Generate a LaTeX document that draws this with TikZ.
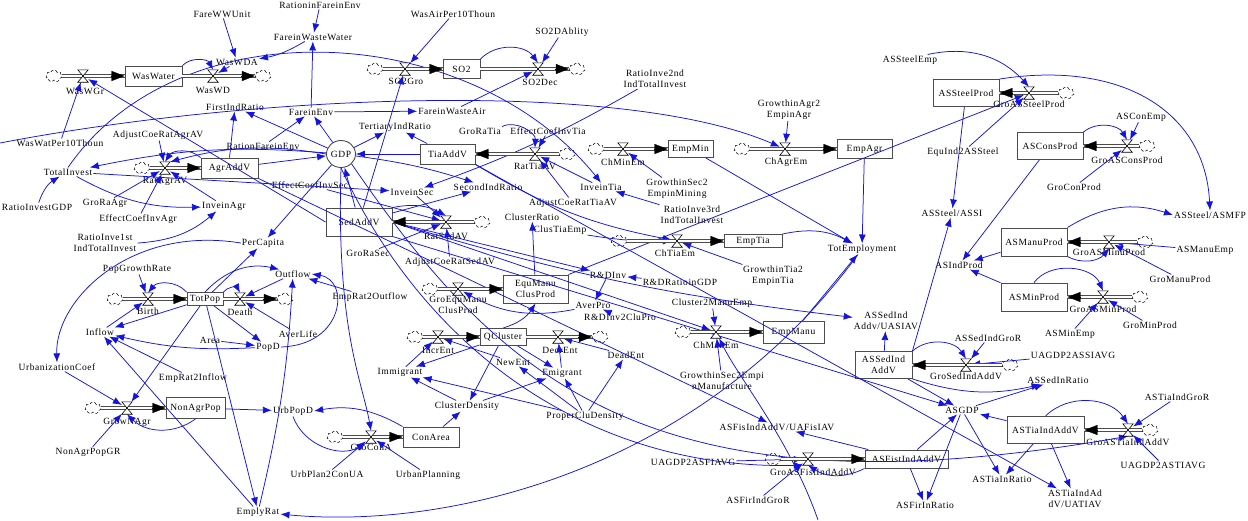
\documentclass[tikz,border=0pt]{standalone}
\usepackage{fontspec}
\setmainfont{Liberation Serif}[LetterSpace=6]
\usetikzlibrary{arrows.meta,shapes.symbols,shapes.geometric}
\definecolor{vb}{RGB}{20,20,225}
\newcommand\hglass[1]{\draw[fill=white,line width=0.6pt] (#1.north west) -- (#1.north east) -- (#1.south west) -- (#1.south east) -- cycle;}
\newcommand\pR[2]{\draw[pipe] (#1.east) -- (#1.east -| #2.west); \draw[ptip] ([xshift=-14pt]#1.east -| #2.west) -- (#1.east -| #2.west);}
\newcommand\pL[2]{\draw[pipe] (#1.west) -- (#1.west -| #2.east); \draw[ptip] ([xshift=14pt]#1.west -| #2.east) -- (#1.west -| #2.east);}
\tikzset{
 every node/.style={font=\fontsize{9.5}{11}\selectfont, inner sep=1pt},
 stock/.style={draw=black!70, line width=0.9pt, fill=white, rectangle, inner sep=1pt, align=center},
 aux/.style={align=center},
 valvebox/.style={minimum width=10pt, minimum height=12pt, inner sep=0pt},
 cloudn/.style={cloud, cloud puffs=7, aspect=1.4, draw, densely dashed, line width=0.5pt, minimum width=16pt, minimum height=12pt, inner sep=0pt},
 pipe/.style={draw=black!70, double=white, double distance=2pt, line width=0.8pt},
 ptip/.style={-{Triangle[length=13pt,width=10pt]}, line width=0.3pt, draw=black},
 c/.style={draw=vb, line width=0.75pt, -{Latex[length=9pt,width=7pt]}},
}
\begin{document}
\begin{tikzpicture}[x=1pt,y=1pt]
\fill[white] (0,0) rectangle (1248,-520);
\path[use as bounding box] (0,0) rectangle (1248,-520);
% ---------- stocks
\node[stock,minimum width=57pt,minimum height=20pt] (WasWater) at (153.5,-76) {WasWater};
\node[stock,minimum width=57pt,minimum height=20pt] (AgrAddV) at (229.5,-168) {AgrAddV};
\node[stock,minimum width=37pt,minimum height=19pt] (SO2) at (461.5,-69) {SO2};
\node[stock,minimum width=55pt,minimum height=20pt] (TiaAddV) at (447.5,-154) {TiaAddV};
\node[stock,minimum width=66pt,minimum height=28pt] (SedAddV) at (359,-222) {SedAddV};
\node[stock,minimum width=45pt,minimum height=17pt] (EmpMin) at (690.5,-149) {EmpMin};
\node[stock,minimum width=55pt,minimum height=19pt] (EmpAgr) at (864.5,-149) {EmpAgr};
\node[stock,minimum width=66pt,minimum height=27pt] (ASSteelProd) at (966,-93) {ASSteelProd};
\node[stock,minimum width=66pt,minimum height=27pt] (ASConsProd) at (1050,-146) {ASConsProd};
\node[stock,minimum width=66pt,minimum height=28pt] (ASManuProd) at (1034,-242) {ASManuProd};
\node[stock,minimum width=66pt,minimum height=28pt] (ASMinProd) at (1034,-297) {ASMinProd};
\node[stock,minimum width=36pt,minimum height=13pt] (TotPop) at (205,-299) {TotPop};
\node[stock,minimum width=65pt,minimum height=28pt] (EquManu) at (535.5,-289) {EquManu\\ClusProd};
\node[stock,minimum width=46pt,minimum height=17pt] (QCluster) at (503,-337) {QCluster};
\node[stock,minimum width=58pt,minimum height=13pt] (EmpTia) at (753,-241) {EmpTia};
\node[stock,minimum width=61pt,minimum height=22pt] (EmpManu) at (793.5,-332) {EmpManu};
\node[stock,minimum width=57pt,minimum height=27pt] (ASSedIndAddV) at (883.5,-365) {ASSedInd\\AddV};
\node[stock,minimum width=59pt,minimum height=21pt] (NonAgrPop) at (195.5,-408) {NonAgrPop};
\node[stock,minimum width=56pt,minimum height=20pt] (ConArea) at (431,-437) {ConArea};
\node[stock,minimum width=83pt,minimum height=18pt] (ASFistIndAddV) at (906.5,-459) {ASFistIndAddV};
\node[stock,minimum width=77pt,minimum height=27pt] (ASTiaIndAddV) at (1045.5,-430) {ASTiaIndAddV};
\node[draw=black!70,line width=0.9pt,fill=white,ellipse,minimum width=29pt,minimum height=27pt,inner sep=0pt] (GDP) at (341,-154) {GDP};
% ---------- clouds
\node[cloudn] (cWasWGr) at (54,-76) {};
\node[cloudn] (cWasWD) at (263,-76) {};
\node[cloudn] (cSO2Gro) at (375,-69) {};
\node[cloudn] (cSO2Dec) at (577,-69) {};
\node[cloudn] (cRatAgrAV) at (142,-168) {};
\node[cloudn] (cRatTiaAV) at (567,-154) {};
\node[cloudn] (cChMinEm) at (596,-149) {};
\node[cloudn] (cChAgrEm) at (742,-149) {};
\node[cloudn] (cRatSedAV) at (482,-222) {};
\node[cloudn] (cChTiaEm) at (619,-241) {};
\node[cloudn] (cGroASSteelProd) at (1066,-93) {};
\node[cloudn] (cGroASConsProd) at (1147,-146) {};
\node[cloudn] (cGroASMinuProd) at (1145,-242) {};
\node[cloudn] (cGroASMinProd) at (1140,-297) {};
\node[cloudn] (cBirth) at (115,-299) {};
\node[cloudn] (cDeath) at (285,-299) {};
\node[cloudn] (cGroEquManu) at (430,-289) {};
\node[cloudn] (cIncrEnt) at (415,-337) {};
\node[cloudn] (cDecrEnt) at (600,-337) {};
\node[cloudn] (cChManEm) at (683,-332) {};
\node[cloudn] (cGroSedIndAddV) at (1010,-365) {};
\node[cloudn] (cGrowNAgr) at (93,-408) {};
\node[cloudn] (cGroConA) at (335,-437) {};
\node[cloudn] (cGroASFistIndAddV) at (773,-459) {};
\node[cloudn] (cGroASTiaIndAddV) at (1150,-430) {};
% ---------- valves and their labels
\node[valvebox] (vWasWGr) at (83,-76) {};       \node (lWasWGr) at (85,-91) {WasWGr};
\node[valvebox] (vWasWD) at (213,-76) {};       \node (lWasWD) at (213,-90) {WasWD};
\node[valvebox] (vSO2Gro) at (405,-69) {};      \node (lSO2Gro) at (406,-81) {SO2Gro};
\node[valvebox] (vSO2Dec) at (538,-69) {};      \node (lSO2Dec) at (540,-82) {SO2Dec};
\node[valvebox] (vRatAgrAV) at (165,-168) {};   \node (lRatAgrAV) at (165,-181) {RatAgrAV};
\node[valvebox] (vRatTiaAV) at (535,-154) {};   \node (lRatTiaAV) at (535,-166) {RatTiaAV};
\node[valvebox] (vChMinEm) at (623,-149) {};    \node (lChMinEm) at (623,-162) {ChMinEm};
\node[valvebox] (vChAgrEm) at (785,-149) {};    \node (lChAgrEm) at (786,-162) {ChAgrEm};
\node[valvebox] (vRatSedAV) at (446,-222) {};   \node (lRatSedAV) at (446,-236) {RatSedAV};
\node[valvebox] (vChTiaEm) at (677,-241) {};    \node (lChTiaEm) at (675,-253) {ChTiaEm};
\node[valvebox] (vGroASSteelProd) at (1029,-93) {}; \node (lGroASSteelProd) at (1029,-104) {GroASSteelProd};
\node[valvebox] (vGroASConsProd) at (1127,-146) {}; \node (lGroASConsProd) at (1127,-160) {GroASConsProd};
\node[valvebox] (vGroASMinuProd) at (1109,-242) {}; \node (lGroASMinuProd) at (1109,-252) {GroASMinuProd};
\node[valvebox] (vGroASMinProd) at (1103,-297) {};  \node (lGroASMinProd) at (1103,-309) {GroASMinProd};
\node[valvebox] (vBirth) at (148,-299) {};      \node (lBirth) at (148,-311) {Birth};
\node[valvebox] (vDeath) at (240,-299) {};      \node (lDeath) at (240,-312) {Death};
\node[valvebox] (vGroEquManu) at (458,-289) {}; \node[aux] (lGroEquManu) at (458,-305) {GroEquManu\\ClusProd};
\node[valvebox] (vIncrEnt) at (438,-337) {};    \node (lIncrEnt) at (438,-350) {IncrEnt};
\node[valvebox] (vDecrEnt) at (558,-337) {};    \node (lDecrEnt) at (560,-350) {DecrEnt};
\node[valvebox] (vChManEm) at (716,-332) {};    \node (lChManEm) at (716,-345) {ChManEm};
\node[valvebox] (vGroSedIndAddV) at (966,-365) {}; \node (lGroSedIndAddV) at (966,-376) {GroSedIndAddV};
\node[valvebox] (vGrowNAgr) at (127,-408) {};   \node (lGrowNAgr) at (127,-422) {GrowNAgr};
\node[valvebox] (vGroConA) at (371,-437) {};    \node (lGroConA) at (371,-447) {GroConA};
\node[valvebox] (vGroASFistIndAddV) at (808,-459) {}; \node (lGroASFistIndAddV) at (813,-472) {GroASFistIndAddV};
\node[valvebox] (vGroASTiaIndAddV) at (1128,-430) {}; \node (lGroASTiaIndAddV) at (1128,-442) {GroASTiaIndAddV};
% ---------- auxiliaries
\node[aux] (FareWWUnit) at (222,-14) {FareWWUnit};
\node[aux] (RationinFareinEnv) at (320,-5) {RationinFareinEnv};
\node[aux] (FareinWasteWater) at (313,-37) {FareinWasteWater};
\node[aux] (WasWDA) at (237,-62) {WasWDA};
\node[aux] (WasWatPer10Thoun) at (60,-143) {WasWatPer10Thoun};
\node[aux] (AdjustCoeRatAgrAV) at (158,-135) {AdjustCoeRatAgrAV};
\node[aux] (FirstIndRatio) at (235,-107) {FirstIndRatio};
\node[aux] (FareinEnv) at (311,-112) {FareinEnv};
\node[aux] (RationFareinEnv) at (263,-146) {RationFareinEnv};
\node[aux] (TotalInvest) at (68,-172) {TotalInvest};
\node[aux] (RatioInvestGDP) at (37,-207) {RatioInvestGDP};
\node[aux] (GroRaAgr) at (105,-203) {GroRaAgr};
\node[aux] (EffectCoefInvAgr) at (138,-219) {EffectCoefInvAgr};
\node[aux] (InveinAgr) at (224,-206) {InveinAgr};
\node[aux] (RatioInveFirst) at (105,-242.5) {RatioInve1st\\IndTotalInvest};
\node[aux] (PerCapita) at (263,-243) {PerCapita};
\node[aux] (PopGrowthRate) at (137,-269) {PopGrowthRate};
\node[aux] (Outflow) at (293,-274) {Outflow};
\node[aux] (Inflow) at (100,-332) {Inflow};
\node[aux] (Area) at (210,-340) {Area};
\node[aux] (PopD) at (268,-347) {PopD};
\node[aux] (AverLife) at (298,-334) {AverLife};
\node[aux] (UrbanizationCoef) at (57,-367) {UrbanizationCoef};
\node[aux] (EmpRatTwoInflow) at (193,-378) {EmpRat2Inflow};
\node[aux] (NonAgrPopGR) at (88,-452) {NonAgrPopGR};
\node[aux] (UrbPopD) at (293,-411) {UrbPopD};
\node[aux] (UrbPlanTwoConUA) at (327,-474) {UrbPlan2ConUA};
\node[aux] (UrbanPlanning) at (428,-475) {UrbanPlanning};
\node[aux] (EmplyRat) at (258,-512) {EmplyRat};
\node[aux] (EmpRatTwoOutflow) at (370,-297) {EmpRat2Outflow};
\node[aux] (GroRaSec) at (368,-253) {GroRaSec};
\node[aux] (AdjustCoeRatSedAV) at (450,-262) {AdjustCoeRatSedAV};
\node[aux] (InveinSec) at (412,-192) {InveinSec};
\node[aux] (EffectCoefInvSec) at (310,-185) {EffectCoefInvSec};
\node[aux] (SecondIndRatio) at (488,-187) {SecondIndRatio};
\node[aux] (TertiaryIndRatio) at (395,-127) {TertiaryIndRatio};
\node[aux] (FareinWasteAir) at (452,-111) {FareinWasteAir};
\node[aux] (WasAirPer10Thoun) at (453,-14) {WasAirPer10Thoun};
\node[aux] (SOTwoDAblity) at (562,-32) {SO2DAblity};
\node[aux] (GroRaTia) at (480,-131) {GroRaTia};
\node[aux] (EffectCoefInvTia) at (548,-131) {EffectCoefInvTia};
\node[aux] (RatioInveSecond) at (655,-79) {RatioInve2nd\\IndTotalInvest};
\node[aux] (GrowthinAgrTwo) at (789,-110) {GrowthinAgr2\\EmpinAgr};
\node[aux] (ASSteelEmp) at (910,-60) {ASSteelEmp};
\node[aux] (EquIndTwoASSteel) at (963,-152) {EquInd2ASSteel};
\node[aux] (ASConEmp) at (1141,-117) {ASConEmp};
\node[aux] (GroConProd) at (1074,-187) {GroConProd};
\node[aux] (ASSteelASSI) at (952,-213) {ASSteel/ASSI};
\node[aux] (ASSteelASMFP) at (1210,-215) {ASSteel/ASMFP};
\node[aux] (ASManuEmp) at (1205,-250) {ASManuEmp};
\node[aux] (GroManuProd) at (1180,-279) {GroManuProd};
\node[aux] (ASIndProd) at (959,-265) {ASIndProd};
\node[aux] (ASMinEmp) at (1070,-334) {ASMinEmp};
\node[aux] (GroMinProd) at (1150,-325) {GroMinProd};
\node[aux] (ASSedIndGroR) at (988,-338) {ASSedIndGroR};
\node[aux] (UAGDPTwoASSIAVG) at (1073,-355) {UAGDP2ASSIAVG};
\node[aux] (ASSedInRatio) at (1058,-380) {ASSedInRatio};
\node[aux] (ASGDP) at (962,-410) {ASGDP};
\node[aux] (ASTiaIndGroR) at (1177,-397) {ASTiaIndGroR};
\node[aux] (UAGDPTwoASTIAVG) at (1163,-465) {UAGDP2ASTIAVG};
\node[aux] (ASTiaInRatio) at (1002,-479) {ASTiaInRatio};
\node[aux] (ASTiaUATIAV) at (1075,-498.5) {ASTiaIndAd\\dV/UATIAV};
\node[aux] (ASFirInRatio) at (925,-505) {ASFirInRatio};
\node[aux] (ASFirIndGroR) at (758,-500) {ASFirIndGroR};
\node[aux] (UAGDPTwoASFIAVG) at (693,-462) {UAGDP2ASFIAVG};
\node[aux] (ASFisUAFisIAV) at (777,-427) {ASFisIndAddV/UAFisIAV};
\node[aux] (GrowthinSecManu) at (722,-380.5) {GrowthinSec2Empi\\nManufacture};
\node[aux] (DeadEnt) at (626,-355) {DeadEnt};
\node[aux] (ClusterTwoManuEmp) at (712,-303) {Cluster2ManuEmp};
\node[aux] (ASSedUASIAV) at (886,-321) {ASSedInd\\Addv/UASIAV};
\node[aux] (TotEmployment) at (862,-249) {TotEmployment};
\node[aux] (GrowthinTiaTwo) at (773,-275.5) {GrowthinTia2\\EmpinTia};
\node[aux] (RDRatioinGDP) at (680,-282) {R\&DRatioinGDP};
\node[aux] (RDInv) at (608,-275) {R\&DInv};
\node[aux] (AverPro) at (593,-305) {AverPro};
\node[aux] (RDInvTwoCluPro) at (620,-317) {R\&DInv2CluPro};
\node[aux] (ClusterRatio) at (532,-217) {ClusterRatio};
\node[aux] (ClusTiaEmp) at (560,-230) {ClusTiaEmp};
\node[aux] (AdjustCoeRatTiaAV) at (573,-203) {AdjustCoeRatTiaAV};
\node[aux] (InveinTia) at (601,-187) {InveinTia};
\node[aux] (GrowthinSecMining) at (677,-188.5) {GrowthinSec2\\EmpinMining};
\node[aux] (RatioInveThird) at (692,-214.5) {RatioInve3rd\\IndTotalInvest};
\node[aux] (NewEnt) at (513,-362) {NewEnt};
\node[aux] (Emigrant) at (562,-373) {Emigrant};
\node[aux] (Immigrant) at (400,-372) {Immigrant};
\node[aux] (ClusterDensity) at (467,-406) {ClusterDensity};
\node[aux] (ProperCluDensity) at (585,-416) {ProperCluDensity};
\coordinate (Ledge) at (0,-143);
\coordinate (Bedge) at (818,-520);
% ---------- connectors
\begin{scope}[every path/.append style={c}]
% waste water / environment
\draw (FareWWUnit) -- (WasWDA);
\draw (FareinWasteWater) to[bend left=10] (WasWDA);
\draw (WasWDA) -- (vWasWD);
\draw (WasWater.north east) to[bend left=55] (vWasWD.north);
\draw (WasWatPer10Thoun) -- (vWasWGr);
\draw (SedAddV.west) -- (vWasWGr);
\draw (RationinFareinEnv) -- (FareinWasteWater);
\draw (FareinEnv) -- (FareinWasteWater);
\draw (RationFareinEnv) -- (FareinEnv);
\draw (GDP) -- (FareinEnv);
\draw (GDP) -- (FirstIndRatio);
\draw (AgrAddV.north) -- (FirstIndRatio);
\draw (AgrAddV) -- (GDP);
\draw (GDP) to[bend right=8] (TotalInvest);
\draw (TotalInvest) -- (InveinSec);
\draw (TotalInvest) to[bend right=15] (InveinAgr);
\draw (TotalInvest.north) .. controls (180,-5) and (470,-20) .. (InveinTia.north);
\draw (RatioInvestGDP) to[bend left=20] (TotalInvest);
\draw (Ledge) .. controls (250,-95) and (620,-78) .. (vChAgrEm);
% agriculture
\draw (GroRaAgr) -- (vRatAgrAV);
\draw (EffectCoefInvAgr) -- (vRatAgrAV);
\draw (InveinAgr) -- (vRatAgrAV);
\draw (AdjustCoeRatAgrAV) -- (vRatAgrAV);
\draw (AgrAddV.north west) to[bend right=50] (vRatAgrAV.north);
\draw (GDP.west) to[bend right=12] (vRatAgrAV.north east);
\draw (RatioInveFirst) to[bend right=18] (InveinAgr);
% GDP hub
\draw (GDP) -- (PerCapita);
\draw (GDP) -- (TertiaryIndRatio);
\draw (TiaAddV) -- (TertiaryIndRatio);
\draw (TiaAddV) -- (GDP);
\draw (SedAddV) -- (GDP);
\draw (GDP) to[bend left=5] (SecondIndRatio);
\draw (SedAddV) -- (SecondIndRatio);
\draw (SedAddV) -- (vSO2Gro);
\draw (WasAirPer10Thoun) -- (vSO2Gro);
\draw (SO2.north east) to[bend left=50] (vSO2Dec.north);
\draw (SOTwoDAblity) -- (vSO2Dec);
\draw (FareinEnv) -- (FareinWasteAir);
\draw (FareinWasteAir) -- (vSO2Dec);
% tertiary
\draw (GroRaTia.north east) to[bend left=60] (vRatTiaAV.north);
\draw (EffectCoefInvTia) -- (vRatTiaAV);
\draw (AdjustCoeRatTiaAV) -- (vRatTiaAV);
\draw (InveinTia) -- (vRatTiaAV);
\draw (RatioInveSecond) to[bend left=5] (InveinSec);
\draw (RatioInveThird) -- (InveinTia);
\draw (TiaAddV.south east) to[bend right=10] (vChTiaEm);
\draw (ClusTiaEmp) to[bend right=5] (vChTiaEm);
\draw (GrowthinTiaTwo) -- (vChTiaEm);
\draw (TiaAddV.south east) -- (ASTiaUATIAV);
% employment
\draw (GrowthinSecMining) -- (vChMinEm);
\draw (GrowthinAgrTwo) -- (vChAgrEm);
\draw (EmpMin) -- (TotEmployment);
\draw (EmpAgr) -- (TotEmployment);
\draw (EmpTia.north east) to[bend left=20] (TotEmployment);
\draw (EmpManu) -- (TotEmployment);
\draw (TotEmployment) .. controls (700,-470) and (450,-530) .. (EmplyRat);
\draw (ClusterTwoManuEmp) -- (vChManEm);
\draw (GrowthinSecManu) -- (vChManEm);
\draw (SedAddV.east) -- (vChManEm);
\draw (Bedge) .. controls (790,-440) and (740,-380) .. (vChManEm);
% AS block
\draw (EquManu.north east) -- (vGroASSteelProd);
\draw (ASSteelEmp) to[bend left=30] (vGroASSteelProd.north);
\draw (EquIndTwoASSteel) -- (vGroASSteelProd);
\draw (ASSteelProd) -- (ASSteelASSI);
\draw (ASSteelProd.north east) .. controls (1120,-60) and (1205,-110) .. (ASSteelASMFP.north);
\draw (ASConEmp) -- (vGroASConsProd);
\draw (ASConsProd.north east) to[bend left=50] (vGroASConsProd.north);
\draw (GroConProd) -- (vGroASConsProd);
\draw (ASConsProd) -- (ASIndProd);
\draw (ASManuProd) -- (ASIndProd);
\draw (ASMinProd) -- (ASIndProd);
\draw (ASManuProd.north east) to[bend left=25] (ASSteelASMFP.west);
\draw (ASManuProd.south east) to[bend right=40] (vGroASMinuProd.south);
\draw (ASManuEmp) -- (vGroASMinuProd);
\draw (GroManuProd) -- (vGroASMinuProd);
\draw (ASMinProd.north) to[bend left=60] (vGroASMinProd.north);
\draw (ASMinEmp) -- (vGroASMinProd);
\draw (GroMinProd) -- (vGroASMinProd);
\draw (ASSedIndAddV.north east) -- (ASSteelASSI);
\draw (ASSedIndAddV) -- (ASSedUASIAV);
\draw (SedAddV.east) to[bend right=5] (ASSedUASIAV);
\draw (ASSedIndGroR) -- (vGroSedIndAddV);
\draw (UAGDPTwoASSIAVG) -- (vGroSedIndAddV);
\draw (ASSedIndAddV.north east) to[bend left=50] (vGroSedIndAddV.north);
\draw (ASSedIndAddV.south east) to[bend right=15] (ASSedInRatio);
\draw (ASSedIndAddV) -- (ASGDP);
\draw (ASGDP) -- (ASSedInRatio);
\draw (ASTiaIndAddV) -- (ASGDP);
\draw (ASFistIndAddV) -- (ASGDP);
\draw (ASGDP) -- (ASTiaInRatio);
\draw (ASGDP) -- (ASFirInRatio);
\draw (ASTiaIndAddV) -- (ASTiaInRatio);
\draw (ASTiaIndAddV) -- (ASTiaUATIAV);
\draw (ASTiaIndAddV.north) to[bend left=50] (vGroASTiaIndAddV.north);
\draw (ASTiaIndGroR) -- (vGroASTiaIndAddV);
\draw (UAGDPTwoASTIAVG) -- (vGroASTiaIndAddV);
\draw (ASFistIndAddV) -- (ASFirInRatio);
\draw (ASFistIndAddV) -- (ASFisUAFisIAV);
\draw (ASFistIndAddV.south west) to[bend left=30] (vGroASFistIndAddV.south);
\draw (UAGDPTwoASFIAVG) -- (vGroASFistIndAddV);
\draw (ASFirIndGroR) -- (vGroASFistIndAddV);
\draw (AgrAddV.south east) -- (ASFisUAFisIAV);
\draw (SedAddV.south east) -- (ASGDP);
\draw (GDP.south east) .. controls (500,-380) and (650,-520) .. (vGroASTiaIndAddV.south);
\draw (GDP.south) .. controls (430,-360) and (600,-470) .. (vGroASFistIndAddV.south west);
% population
\draw (PopGrowthRate) -- (vBirth);
\draw (TotPop.north west) to[bend right=50] (vBirth.north);
\draw (TotPop.north east) to[bend left=60] (vDeath.north);
\draw (Inflow) -- (vBirth);
\draw (TotPop) -- (Inflow);
\draw (TotPop) -- (PerCapita);
\draw (TotPop.north) to[bend left=30] (Outflow);
\draw (Outflow) -- (vDeath);
\draw (AverLife) -- (vDeath);
\draw (TotPop) -- (PopD);
\draw (Area) -- (PopD);
\draw (PopD) to[bend left=8] (Inflow);
\draw (PerCapita.west) .. controls (130,-225) and (55,-300) .. (UrbanizationCoef.north);
\draw (UrbanizationCoef) -- (vGrowNAgr);
\draw (NonAgrPopGR) -- (vGrowNAgr);
\draw (NonAgrPop.south) to[bend left=40] (vGrowNAgr.south);
\draw (TotPop) -- (vGrowNAgr);
\draw (EmpRatTwoInflow) -- (Inflow);
\draw (EmplyRat) -- (Inflow);
\draw (TotPop) -- (EmplyRat);
\draw (EmplyRat) to[bend right=5] (Outflow);
\draw (EmpRatTwoOutflow) -- (Outflow);
\draw (PopD.east) .. controls (345,-345) and (350,-280) .. (Outflow.east);
\draw (NonAgrPop) -- (UrbPopD);
\draw (UrbPopD.south) to[bend right=50] (vGroConA.south west);
\draw (ConArea.north west) to[bend right=20] (UrbPopD.east);
\draw (UrbPlanTwoConUA) -- (vGroConA);
\draw (UrbanPlanning) -- (vGroConA);
\draw (ConArea) -- (ClusterDensity);
\draw (GDP.south) .. controls (336,-330) and (362,-380) .. (vGroConA.north);
% cluster
\draw (QCluster.north) to[bend right=20] (EquManu.south);
\draw (EquManu) -- (ClusterRatio);
\draw (AverPro) to[bend left=20] (vGroEquManu);
\draw (RDInv) -- (AverPro);
\draw (RDInvTwoCluPro) -- (AverPro);
\draw (RDRatioinGDP) -- (RDInv);
\draw (SedAddV.east) -- (RDInv);
\draw (SedAddV.north east) to[bend left=20] (vRatSedAV.north);
\draw (InveinSec) -- (vRatSedAV);
\draw (GroRaSec) -- (vRatSedAV);
\draw (AdjustCoeRatSedAV) -- (vRatSedAV);
\draw (EffectCoefInvSec) -- (vRatSedAV);
\draw (NewEnt) -- (vIncrEnt);
\draw (Immigrant) -- (vIncrEnt);
\draw (Emigrant) -- (vDecrEnt);
\draw (DeadEnt) -- (vDecrEnt);
\draw (ProperCluDensity) -- (NewEnt);
\draw (ProperCluDensity) -- (Emigrant);
\draw (ClusterDensity) -- (Emigrant);
\draw (ClusterDensity) -- (Immigrant);
\draw (ProperCluDensity) -- (Immigrant);
\draw (ProperCluDensity) -- (DeadEnt);
\draw (QCluster) -- (ClusterDensity);
\draw (QCluster) -- (Emigrant);
\draw (QCluster) -- (Immigrant);
\end{scope}
% ---------- pipes
\pR{cWasWGr}{WasWater} \pR{WasWater}{cWasWD}
\pR{cSO2Gro}{SO2} \pR{SO2}{cSO2Dec}
\pR{cRatAgrAV}{AgrAddV}
\pL{cRatTiaAV}{TiaAddV}
\pR{cChMinEm}{EmpMin} \pR{cChAgrEm}{EmpAgr}
\pL{cRatSedAV}{SedAddV}
\pR{cChTiaEm}{EmpTia}
\pL{cGroASSteelProd}{ASSteelProd} \pL{cGroASConsProd}{ASConsProd}
\pL{cGroASMinuProd}{ASManuProd} \pL{cGroASMinProd}{ASMinProd}
\pR{cBirth}{TotPop} \pR{TotPop}{cDeath}
\pR{cGroEquManu}{EquManu}
\pR{cIncrEnt}{QCluster} \pR{QCluster}{cDecrEnt}
\pR{cChManEm}{EmpManu}
\pL{cGroSedIndAddV}{ASSedIndAddV}
\pR{cGrowNAgr}{NonAgrPop}
\pR{cGroConA}{ConArea}
\pR{cGroASFistIndAddV}{ASFistIndAddV}
\pL{cGroASTiaIndAddV}{ASTiaIndAddV}
% ---------- valves
\hglass{vWasWGr} \hglass{vWasWD} \hglass{vSO2Gro} \hglass{vSO2Dec} \hglass{vRatAgrAV}
\hglass{vRatTiaAV} \hglass{vChMinEm} \hglass{vChAgrEm} \hglass{vRatSedAV} \hglass{vChTiaEm}
\hglass{vGroASSteelProd} \hglass{vGroASConsProd} \hglass{vGroASMinuProd} \hglass{vGroASMinProd}
\hglass{vBirth} \hglass{vDeath} \hglass{vGroEquManu} \hglass{vIncrEnt} \hglass{vDecrEnt}
\hglass{vChManEm} \hglass{vGroSedIndAddV} \hglass{vGrowNAgr} \hglass{vGroConA}
\hglass{vGroASFistIndAddV} \hglass{vGroASTiaIndAddV}
\end{tikzpicture}
\end{document}
